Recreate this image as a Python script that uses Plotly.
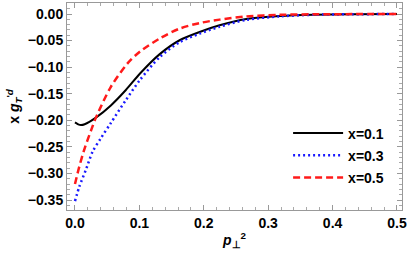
import plotly.graph_objects as go

# x = 0.1 (black, solid)
p_a = [0.0, 0.005, 0.0093, 0.015, 0.0325, 0.0557, 0.079, 0.101, 0.1316, 0.1625, 0.1935, 0.2245, 0.266, 0.318, 0.37, 0.43, 0.5]
y_a = [-0.204, -0.2077, -0.209, -0.2075, -0.195, -0.172, -0.143, -0.112, -0.0755, -0.0494, -0.0338, -0.0212, -0.0095, -0.0037, -0.0012, -0.0004, 0.0]

# x = 0.3 (blue, dotted)
p_b = [0.0, 0.0067, 0.017, 0.0274, 0.04, 0.0557, 0.079, 0.101, 0.1316, 0.1625, 0.1935, 0.2245, 0.266, 0.318, 0.37, 0.43, 0.5]
y_b = [-0.352, -0.325, -0.293, -0.259, -0.234, -0.205, -0.162, -0.124, -0.081, -0.053, -0.037, -0.024, -0.011, -0.0045, -0.0015, -0.0005, 0.0]

# x = 0.5 (red, dashed)
p_c = [0.0, 0.0067, 0.0144, 0.025, 0.0325, 0.0557, 0.0816, 0.1006, 0.1316, 0.1625, 0.1935, 0.2245, 0.266, 0.318, 0.37, 0.43, 0.5]
y_c = [-0.320, -0.287, -0.255, -0.219, -0.195, -0.137, -0.093, -0.071, -0.046, -0.0275, -0.017, -0.0106, -0.0045, -0.0015, -0.0005, -0.0002, 0.0]

names = ["x=0.1", "x=0.3", "x=0.5"]
x_ticks = [0, 0.1, 0.2, 0.3, 0.4, 0.5]
x_labels = ["0.0", "0.1", "0.2", "0.3", "0.4", "0.5"]
y_ticks = [0, -0.05, -0.1, -0.15, -0.2, -0.25, -0.3, -0.35]
y_labels = ["0.00", "\u22120.05", "\u22120.10", "\u22120.15", "\u22120.20", "\u22120.25", "\u22120.30", "\u22120.35"]

FONT = "Liberation Sans"
fig = go.Figure()
fig.add_trace(go.Scatter(x=p_a, y=y_a, mode="lines", name="<b>" + names[0] + "</b>", legendgroup="a",
                         line=dict(color="black", width=2, shape="spline", smoothing=0.8)))
fig.add_trace(go.Scatter(x=p_b, y=y_b, mode="lines", name="<b>" + names[1] + "</b>", legendgroup="b",
                         line=dict(color="#1a1aff", width=2.5, dash="2px,3px", shape="spline", smoothing=0.8)))
fig.add_trace(go.Scatter(x=p_c, y=y_c, mode="lines", name="<b>" + names[2] + "</b>", legendgroup="c",
                         line=dict(color="#ff1a1a", width=2.5, dash="7px,4px", shape="spline", smoothing=0.8)))

axis_common = dict(
    automargin=False,
    showline=True, linecolor="#999999", linewidth=1, mirror="allticks",
    ticks="inside", ticklen=5, tickcolor="#999999", tickwidth=1,
    showgrid=False, zeroline=False,
    tickfont=dict(family=FONT, size=14, color="black"),
)

fig.update_xaxes(range=[-0.0124, 0.5078], tickvals=x_ticks,
                 ticktext=["<b>" + t + "</b>" for t in x_labels],
                 minor=dict(dtick=0.02, tick0=0, ticks="inside", ticklen=3, tickcolor="#aaaaaa"),
                 title=dict(text="<b><i>p</i></b><sub><b>⊥</b></sub><sup><b>2</b></sup>",
                            font=dict(family=FONT, size=14, color="black"), standoff=5),
                 **axis_common)
fig.update_yaxes(range=[-0.3688, 0.0207], tickvals=y_ticks,
                 ticktext=["<b>" + t + "</b>" for t in y_labels],
                 minor=dict(dtick=0.01, tick0=0, ticks="inside", ticklen=3, tickcolor="#aaaaaa"),
                 title=dict(text="<b>x <i>g</i></b><sub><b><i>T</i></b></sub><sup><b>'<i>d</i></b></sup>",
                            font=dict(family=FONT, size=14, color="black"), standoff=4),
                 **axis_common)

fig.update_layout(
    width=408, height=259,
    margin=dict(l=67, r=6, t=3, b=49),
    plot_bgcolor="white", paper_bgcolor="white",
    hovermode=False,
    legend=dict(x=0.66, y=0.447, xanchor="left", yanchor="top",
                bgcolor="rgba(0,0,0,0)", itemwidth=50,
                font=dict(family=FONT, size=14, color="black"),
                tracegroupgap=1),
)

fig.write_html("out.html", config={"displayModeBar": False, "staticPlot": True},
               post_script="document.body.style.margin='0';document.body.style.overflow='hidden';")
